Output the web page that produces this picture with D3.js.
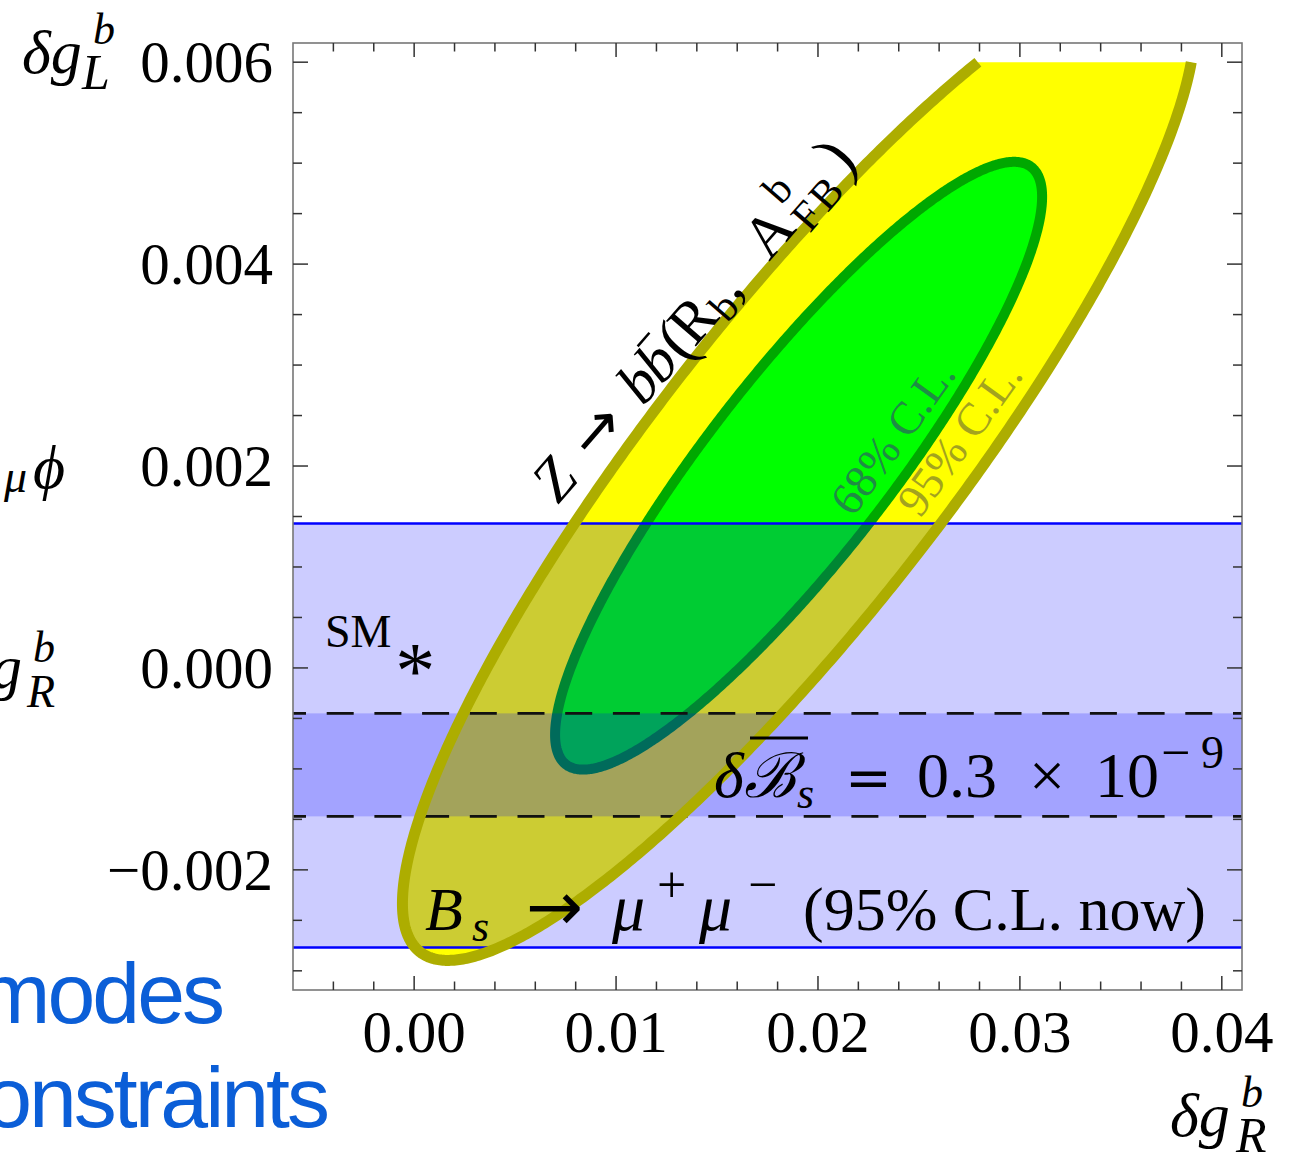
<!DOCTYPE html>
<html>
<head>
<meta charset="utf-8">
<script src="https://cdn.jsdelivr.net/npm/d3@7"></script>
<style>
  body { margin: 0; background: #fff; }
  svg { display: block; }
  text { font-family: "Liberation Serif", "Times New Roman", serif; }
</style>
</head>
<body>
<div id="plot"></div>
<script>
// axis ranges and ticks
const xDomain = [-0.006, 0.041];
const yDomain = [-0.00319, 0.00619];
const xMajorTicks = [0, 0.01, 0.02, 0.03, 0.04];
const xTickLabels = ["0.00", "0.01", "0.02", "0.03", "0.04"];
const yMajorTicks = [-0.002, 0, 0.002, 0.004, 0.006];
const yTickLabels = ["\u22120.002", "0.000", "0.002", "0.004", "0.006"];
const xMinorStep = 0.002;
const yMinorStep = 0.0005;

// Z -> b bbar fit (R_b, A_FB^b): centre, half widths of the contours, correlation
const fitCenter = [0.01904, 0.002003];
const fitRho = 0.885;
const contour68 = [0.01206, 0.00301];
const contour95 = [0.01962, 0.0049];
const contourTop = 0.006;

// Bs -> mu mu bands
const bsNowBand = [-0.00277, 0.00143];
const bsFutureBand = [-0.00147, -0.00045];
const smPoint = [0, 0];

const width = 1301;
const height = 1154;
const frame = { left: 293, right: 1242, top: 43, bottom: 990 };

const svg = d3.select("#plot").append("svg")
  .attr("width", width)
  .attr("height", height)
  .style("background-color", "white");

const x = d3.scaleLinear().domain(xDomain).range([frame.left, frame.right]);
const y = d3.scaleLinear().domain(yDomain).range([frame.bottom, frame.top]);

const line = d3.line().x(d => x(d[0])).y(d => y(d[1]));

// point on a correlated ellipse
const rhoS = Math.sqrt(1 - fitRho * fitRho);
function ellipsePoint(sig, t) {
  return [fitCenter[0] + sig[0] * Math.cos(t),
          fitCenter[1] + sig[1] * (fitRho * Math.cos(t) + rhoS * Math.sin(t))];
}
const phi = Math.atan2(rhoS, fitRho);

// small helper for placed glyphs
function glyph(parent, str, px, py, size, opts = {}) {
  const t = parent.append("text")
    .attr("x", px).attr("y", py)
    .attr("font-size", size)
    .text(str);
  if (opts.italic) t.attr("font-style", "italic");
  if (opts.family) t.style("font-family", opts.family);
  if (opts.fill) t.attr("fill", opts.fill);
  if (opts.anchor) t.attr("text-anchor", opts.anchor);
  return t;
}

const defs = svg.append("defs");
defs.append("clipPath").attr("id", "plotclip")
  .append("rect")
  .attr("x", frame.left).attr("y", frame.top)
  .attr("width", frame.right - frame.left).attr("height", frame.bottom - frame.top);
defs.append("clipPath").attr("id", "topcut")
  .append("rect")
  .attr("x", frame.left).attr("y", y(contourTop))
  .attr("width", frame.right - frame.left).attr("height", frame.bottom - y(contourTop));

const plot = svg.append("g").attr("clip-path", "url(#plotclip)");

// 95% contour (cut at the top of the scan)
const full95 = d3.range(0, 2 * Math.PI + 0.001, Math.PI / 360).map(t => ellipsePoint(contour95, t));
plot.append("path")
  .attr("d", line(full95) + "Z")
  .attr("fill", "#ffff00")
  .attr("clip-path", "url(#topcut)");
const cut = Math.acos((contourTop - fitCenter[1]) / contour95[1]);
const open95 = d3.range(phi + cut, phi + 2 * Math.PI - cut, Math.PI / 360)
  .concat([phi + 2 * Math.PI - cut])
  .map(t => ellipsePoint(contour95, t));
svg.append("path")
  .attr("d", line(open95))
  .attr("fill", "none")
  .attr("stroke", "#adad00")
  .attr("stroke-width", 11)
  .attr("stroke-linecap", "butt")
  .attr("stroke-linejoin", "round");

// 68% contour
const full68 = d3.range(0, 2 * Math.PI + 0.001, Math.PI / 360).map(t => ellipsePoint(contour68, t));
plot.append("path")
  .attr("d", line(full68) + "Z")
  .attr("fill", "#00ff00")
  .attr("stroke", "#00a800")
  .attr("stroke-width", 10);

// C.L. labels
svg.append("text")
  .attr("transform", "translate(853,518) rotate(-54)")
  .attr("font-size", 46)
  .attr("fill", "#1f8c45")
  .text("68% C.L.");
svg.append("text")
  .attr("transform", "translate(920,519) rotate(-54)")
  .attr("font-size", 46)
  .attr("fill", "#a3a31e")
  .text("95% C.L.");

// Bs -> mu mu bands (translucent blue on top)
plot.append("rect")
  .attr("x", frame.left).attr("width", frame.right - frame.left)
  .attr("y", y(bsNowBand[1])).attr("height", y(bsNowBand[0]) - y(bsNowBand[1]))
  .attr("fill", "#0000ff").attr("fill-opacity", 0.2);
plot.append("rect")
  .attr("x", frame.left).attr("width", frame.right - frame.left)
  .attr("y", y(bsFutureBand[1])).attr("height", y(bsFutureBand[0]) - y(bsFutureBand[1]))
  .attr("fill", "#0000ff").attr("fill-opacity", 0.2);

plot.selectAll("line.bs")
  .data(bsNowBand)
  .enter().append("line")
  .attr("x1", frame.left).attr("x2", frame.right)
  .attr("y1", d => y(d)).attr("y2", d => y(d))
  .attr("stroke", "#0000ff").attr("stroke-width", 2.5);

plot.selectAll("line.future")
  .data(bsFutureBand)
  .enter().append("line")
  .attr("x1", frame.left).attr("x2", frame.right)
  .attr("y1", d => y(d)).attr("y2", d => y(d))
  .attr("stroke", "#111").attr("stroke-width", 2.6)
  .attr("stroke-dasharray", "27,20.7")
  .attr("stroke-dashoffset", 14);

// SM point
glyph(svg, "*", x(smPoint[0]) + 1, y(smPoint[1]) + 30, 80, { anchor: "middle" });
glyph(svg, "SM", 325, 647, 46);

// delta B_s label
glyph(svg, "\u03b4", 714, 797, 64, { italic: true });
const bScript = glyph(svg, "\u212c", 744, 797, 62, { italic: true, family: "DejaVu Serif" });
glyph(svg, "s", 797, 808, 44, { italic: true });
glyph(svg, "=", 845, 797, 56, { family: "DejaVu Serif" });
glyph(svg, "0.3", 917, 797, 64);
glyph(svg, "\u00d7", 1029, 797, 64);
glyph(svg, "10", 1095, 797, 64);
glyph(svg, "\u2212", 1161, 770, 52);
glyph(svg, "9", 1201, 768, 46);
const bb = bScript.node().getBBox();
svg.append("line")
  .attr("x1", bb.x + 6).attr("x2", bb.x + bb.width + 2)
  .attr("y1", 738).attr("y2", 738)
  .attr("stroke", "#000").attr("stroke-width", 3);

// Bs -> mu mu label
glyph(svg, "B", 425, 930, 62, { italic: true });
glyph(svg, "s", 472, 941, 44, { italic: true });
glyph(svg, "\u2192", 526, 930, 68, { family: "DejaVu Sans" });
glyph(svg, "\u03bc", 612, 930, 66, { italic: true });
glyph(svg, "+", 657, 902, 52);
glyph(svg, "\u03bc", 699, 930, 66, { italic: true });
glyph(svg, "\u2212", 748, 902, 52);
glyph(svg, "(95% C.L. now)", 803, 930, 62);

// Z -> b bbar label along the 95% contour
const zg = svg.append("g").attr("transform", "translate(558,505) rotate(-49)");
glyph(zg, "Z", 0, 0, 60, { italic: true });
glyph(zg, "\u2192", 56, 0, 60, { family: "DejaVu Sans" });
glyph(zg, "b", 130, 0, 60, { italic: true });
const bbar = glyph(zg, "b", 158, 0, 60, { italic: true });
glyph(zg, "(", 190, 2, 64);
glyph(zg, "R", 208, 0, 60);
glyph(zg, "b", 248, 9, 42);
glyph(zg, ",", 270, 0, 60);
glyph(zg, "A", 322, 0, 60);
glyph(zg, "b", 372, -28, 42);
glyph(zg, "F", 370, 12, 42);
glyph(zg, "B", 397, 12, 42);
glyph(zg, ")", 434, 2, 66);
const bbBox = bbar.node().getBBox();
zg.append("line")
  .attr("x1", bbBox.x + 14).attr("x2", bbBox.x + bbBox.width + 2)
  .attr("y1", -44).attr("y2", -44)
  .attr("stroke", "#000").attr("stroke-width", 2.5);

// frame
svg.append("rect")
  .attr("x", frame.left).attr("y", frame.top)
  .attr("width", frame.right - frame.left).attr("height", frame.bottom - frame.top)
  .attr("fill", "none").attr("stroke", "#777").attr("stroke-width", 1.6);

// ticks on all sides
const xMinor = d3.range(-0.004, 0.0411, xMinorStep).filter(v => !xMajorTicks.some(m => Math.abs(m - v) < 1e-9));
const yMinor = d3.range(-0.003, 0.00601, yMinorStep).filter(v => !yMajorTicks.some(m => Math.abs(m - v) < 1e-9));
const tickG = svg.append("g").attr("stroke", "#333").attr("stroke-width", 1.5);
function xTicks(vals, len) {
  vals.forEach(v => {
    tickG.append("line").attr("x1", x(v)).attr("x2", x(v)).attr("y1", frame.bottom).attr("y2", frame.bottom - len);
    tickG.append("line").attr("x1", x(v)).attr("x2", x(v)).attr("y1", frame.top).attr("y2", frame.top + len);
  });
}
function yTicks(vals, len) {
  vals.forEach(v => {
    tickG.append("line").attr("y1", y(v)).attr("y2", y(v)).attr("x1", frame.left).attr("x2", frame.left + len);
    tickG.append("line").attr("y1", y(v)).attr("y2", y(v)).attr("x1", frame.right).attr("x2", frame.right - len);
  });
}
xTicks(xMajorTicks, 14);
xTicks(xMinor, 8.5);
yTicks(yMajorTicks, 15);
yTicks(yMinor, 9);

// tick labels
svg.selectAll("text.xl")
  .data(xMajorTicks)
  .enter().append("text")
  .attr("x", d => x(d)).attr("y", 1052)
  .attr("text-anchor", "middle")
  .attr("font-size", 59)
  .text((d, i) => xTickLabels[i]);
svg.selectAll("text.yl")
  .data(yMajorTicks)
  .enter().append("text")
  .attr("x", 273).attr("y", d => y(d) + 20)
  .attr("text-anchor", "end")
  .attr("font-size", 59)
  .text((d, i) => yTickLabels[i]);

// axis labels
function axisLabel(px, py, sub, supX, subX) {
  glyph(svg, "\u03b4g", px, py, 62, { italic: true });
  glyph(svg, "b", px + supX, py - 29, 44, { italic: true });
  glyph(svg, sub, px + subX, py + 16, 50, { italic: true });
}
axisLabel(22, 73, "L", 71, 60);
axisLabel(1170, 1136, "R", 71, 66);

// pieces of the slide behind the plot
glyph(svg, "\u03bc", 27, 492, 46, { italic: true, anchor: "end" });
glyph(svg, "\u03d5", 33, 488, 62, { italic: true });
glyph(svg, "g", 22, 688, 62, { italic: true, anchor: "end" });
glyph(svg, "b", 33, 662, 44, { italic: true });
glyph(svg, "R", 27, 707, 46, { italic: true });
glyph(svg, "modes", 222, 1023, 86, { anchor: "end", fill: "#0b5ed7", family: "'Liberation Sans', Arial, sans-serif" })
  .attr("letter-spacing", -3);
glyph(svg, "onstraints", 327, 1127, 86, { anchor: "end", fill: "#0b5ed7", family: "'Liberation Sans', Arial, sans-serif" })
  .attr("letter-spacing", -3);
</script>
</body>
</html>
